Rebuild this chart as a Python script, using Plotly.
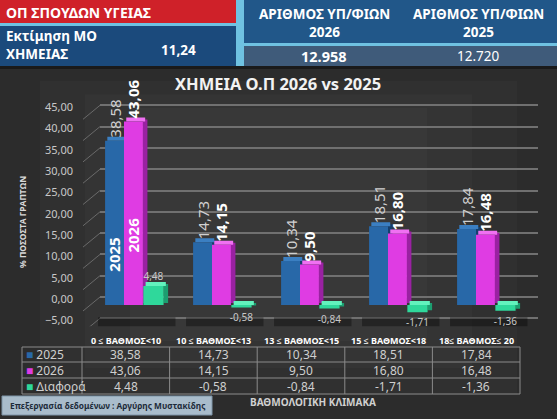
import plotly.graph_objects as go

W, H = 557, 419

# ---------------- data ----------------
categories = ["0 ≤ ΒΑΘΜΟΣ<10", "10 ≤ ΒΑΘΜΟΣ<13", "13 ≤ ΒΑΘΜΟΣ<15",
              "15 ≤ ΒΑΘΜΟΣ<18", "18≤ ΒΑΘΜΟΣ≤ 20"]
v2025 = [38.58, 14.73, 10.34, 18.51, 17.84]
v2026 = [43.06, 14.15, 9.50, 16.80, 16.48]
diff = [4.48, -0.58, -0.84, -1.71, -1.36]
series_names = ["2025", "2026", "Διαφορά"]
y_ticks = [-5, 0, 5, 10, 15, 20, 25, 30, 35, 40, 45]

chart_title = "ΧΗΜΕΙΑ Ο.Π 2026 vs 2025"
y_title = "% ΠΟΣΟΣΤΑ ΓΡΑΠΤΩΝ"
x_title = "ΒΑΘΜΟΛΟΓΙΚΗ ΚΛΙΜΑΚΑ"
header_red = "ΟΠ ΣΠΟΥΔΩΝ ΥΓΕΙΑΣ"
estimate_label = "Εκτίμηση ΜΟ<br>ΧΗΜΕΙΑΣ"
estimate_value = "11,24"
count_label = "ΑΡΙΘΜΟΣ ΥΠ/ΦΙΩΝ"
count_years = ["2026", "2025"]
count_values = ["12.958", "12.720"]
footer = "Επεξεργασία δεδομένων : Αργύρης Μυστακίδης"

# ---------------- helpers ----------------
def px(x):
    return x / W

def py(y):
    return 1 - y / H

def fmt(v):
    return f"{v:.2f}".replace(".", ",")

FONT = "Noto Sans"

# bar axis: 0 at y=305px, 4.26 px per unit
Y0PX, SCALE = 305.0, 4.26
yr = [-5, 50]
ydom = [py(Y0PX - yr[0] * SCALE), py(Y0PX - yr[1] * SCALE)]
shift = 8 / SCALE           # back-wall offset (value units)
CAT_PX = 88.0               # pixels per category
DEPTH_X = 4.5 / CAT_PX      # 3D depth, category units
DEPTH_Y = 4.0 / SCALE       # 3D depth, value units

fig = go.Figure()

# invisible trace that carries the back-wall grid subplot
fig.add_trace(go.Scatter(x=[], y=[], xaxis="x", yaxis="y", showlegend=False,
                         hoverinfo="skip"))

styles = [  # front, side, top, offset, width
    dict(front="#2868a8", side="#163f6c", top="#3b7fc2", off=-0.34, w=0.215),
    dict(front="#df3ce3", side="#9a21a2", top="#f070f2", off=-0.125, w=0.215),
    dict(front="#2fd89b", side="#1c9e70", top="#62f2bd", off=0.095, w=0.23),
]
for name, vals, st in zip(series_names, [v2025, v2026, diff], styles):
    is_diff = name == series_names[2]
    tops = [max(v, 0) for v in vals]
    # right side face
    fig.add_trace(go.Bar(
        x=categories, y=vals, base=[DEPTH_Y * 0.5] * len(vals), xaxis="x2", yaxis="y2",
        offset=st["off"] + st["w"], width=DEPTH_X,
        marker=dict(color=st["side"], line_width=0), hoverinfo="skip", showlegend=False))
    # top face
    fig.add_trace(go.Bar(
        x=categories, y=[DEPTH_Y] * len(vals), base=tops, xaxis="x2", yaxis="y2",
        offset=st["off"] + DEPTH_X * 0.5, width=st["w"],
        marker=dict(color=st["top"], line_width=0), hoverinfo="skip", showlegend=False))
    # front face with the value label
    fig.add_trace(go.Bar(
        x=categories, y=vals, name=name, xaxis="x2", yaxis="y2",
        offset=st["off"], width=st["w"],
        marker=dict(color=st["front"], line_width=0),
        text=[fmt(v) for v in vals],
        textposition="outside",
        textangle=0 if is_diff else -90,
        textfont=dict(family=FONT, size=10 if is_diff else 15,
                      color="#c8c8c8" if is_diff else ("#ffffff" if name == "2026" else "#d0d0d0"),
                      weight="bold" if name == "2026" else "normal"),
        constraintext="none", cliponaxis=False, showlegend=False,
    ))

shapes = []
# header background
shapes.append(dict(type="rect", xref="paper", yref="paper", x0=0, x1=1, y0=py(68), y1=1,
                   fillcolor="#6fc2e2", line_width=0, layer="below"))
shapes.append(dict(type="rect", xref="paper", yref="paper", x0=0, x1=px(236), y0=py(23), y1=1,
                   fillcolor="#cf2129", line_width=0, layer="below"))
shapes.append(dict(type="rect", xref="paper", yref="paper", x0=0, x1=px(236), y0=py(66), y1=py(26),
                   fillcolor="#1b4a7c", line_width=0, layer="below"))
shapes.append(dict(type="rect", xref="paper", yref="paper", x0=px(244), x1=1, y0=py(43), y1=1,
                   fillcolor="#215789", line_width=0, layer="below"))
shapes.append(dict(type="rect", xref="paper", yref="paper", x0=px(244), x1=1, y0=py(66), y1=py(46),
                   fillcolor="#3f5b7a", line_width=0, layer="below"))
shapes.append(dict(type="rect", xref="paper", yref="paper", x0=0, x1=1, y0=py(69), y1=py(66),
                   fillcolor="#1a1a1a", line_width=0, layer="below"))
# soft lighter centre of the dark background
for k in range(3):
    ins = 40 + k * 45
    shapes.append(dict(type="rect", xref="paper", yref="paper", x0=px(ins), x1=px(W - ins),
                       y0=py(H - ins * 0.6), y1=py(69 + ins * 0.3),
                       fillcolor="rgba(255,255,255,0.025)", line_width=0, layer="below"))
# floor slabs under each category
for i, c in enumerate(categories):
    shapes.append(dict(type="rect", xref="x2", yref="y2", x0=i - 0.42, x1=i + 0.46,
                       y0=-5.6, y1=-2.9, fillcolor="rgba(0,0,0,0.35)", line_width=0,
                       layer="below"))
# connectors from tick labels to back wall
for t in y_ticks:
    shapes.append(dict(type="line", xref="paper", yref="y2", x0=px(83), x1=px(100),
                       y0=t - 6 / SCALE, y1=t + shift,
                       line=dict(color="#6a6a6a", width=1), layer="below"))

# ----- data table under the chart -----
TBL_X0, TBL_LBL, TBL_X1 = 22, 82, 520
ROW_LINES = [347, 362, 378, 394]
col_w = (TBL_X1 - TBL_LBL) / len(categories)
col_edges = [TBL_LBL + i * col_w for i in range(len(categories) + 1)]
for yl in ROW_LINES:
    shapes.append(dict(type="line", xref="paper", yref="paper", x0=px(TBL_X0), x1=px(TBL_X1),
                       y0=py(yl), y1=py(yl), line=dict(color="#8a8a8a", width=1)))
for xl in [TBL_X0] + col_edges:
    shapes.append(dict(type="line", xref="paper", yref="paper", x0=px(xl), x1=px(xl),
                       y0=py(ROW_LINES[0]), y1=py(ROW_LINES[-1]),
                       line=dict(color="#8a8a8a", width=1)))

# footer box
shapes.append(dict(type="rect", xref="paper", yref="paper", x0=px(2), x1=px(212),
                   y0=py(415), y1=py(396), fillcolor="#a9bccb",
                   line=dict(color="#7f95a8", width=1), layer="below"))

ann = []
def add_text(text, x, y, size, color="white", xanchor="center", angle=0, align="center",
             xref="paper", yref="paper", xshift=0):
    ann.append(dict(text=text, x=x, y=y, xref=xref, yref=yref, xanchor=xanchor,
                    yanchor="middle", showarrow=False, textangle=angle, align=align,
                    xshift=xshift, font=dict(family=FONT, size=size, color=color)))

row_mid = [(ROW_LINES[k] + ROW_LINES[k + 1]) / 2 for k in range(3)]
for i, c in enumerate(categories):
    cx = (col_edges[i] + col_edges[i + 1]) / 2
    add_text(f"<b>{c}</b>", px(cx), py(340.5), 9)
    for r, vals in enumerate([v2025, v2026, diff]):
        add_text(fmt(vals[i]), px(cx), py(row_mid[r]), 12, "#cfcfcf")
for r, (n, st) in enumerate(zip(series_names, styles)):
    add_text(f"<span style='color:{st['front']}'>■</span> {n}", px(TBL_X0 + 2),
             py(row_mid[r]), 12, "#cfcfcf", xanchor="left")

add_text(f"<b>{header_red}</b>", px(4), py(12), 14, xanchor="left")
add_text(f"<b>{estimate_label}</b>", px(4), py(45), 13.5, xanchor="left", align="left")
add_text(f"<b>{estimate_value}</b>", px(178), py(50), 13.5)
for cx, yr_, val, bold in zip([324, 478], count_years, count_values, [True, False]):
    add_text(f"<b>{count_label}<br>{yr_}</b>", px(cx), py(23), 13.5)
    add_text(f"<b>{val}</b>" if bold else val, px(cx), py(56), 14.5 if bold else 13.5)
add_text(f"<b>{chart_title}</b>", px(278), py(84), 16.5, "#f2f2f2")
add_text(f"<b>{y_title}</b>", px(22), py(222), 8.5, "#d8d8d8", angle=-90)
add_text(f"<b>{x_title}</b>", px(313), py(402), 10, "#d0d0d0")
add_text(f"<b>{footer}</b>", px(107), py(405.5), 8.3, "#1d2b3a")
# series names inside the first bars
for k, yv in zip(range(2), [11.7, 16.4]):
    st = styles[k]
    add_text(f"<b>{series_names[k]}</b>", categories[0], yv, 15, "white", angle=-90,
             xref="x2", yref="y2", xshift=(st["off"] + st["w"] / 2) * CAT_PX)

fig.update_layout(
    width=W, height=H, margin=dict(l=0, r=0, t=0, b=0),
    paper_bgcolor="#2c2c2c", plot_bgcolor="rgba(0,0,0,0)",
    separators=",.", barmode="overlay",
    showlegend=False, shapes=shapes, annotations=ann,
    font=dict(family=FONT, color="#cccccc"),
    xaxis=dict(domain=[px(100), px(538)], anchor="y", range=[0, 1], visible=False,
               showgrid=False, zeroline=False),
    yaxis=dict(domain=ydom, anchor="x", range=[yr[0] - shift, yr[1] - shift], tickvals=y_ticks,
               showgrid=True, gridcolor="#707070", gridwidth=2, showticklabels=False,
               zeroline=False, showline=False),
    xaxis2=dict(domain=[px(91), px(91 + CAT_PX * len(categories))], anchor="y2",
                type="category", categoryorder="array", categoryarray=categories,
                range=[-0.5, len(categories) - 0.5],
                showticklabels=False, showgrid=False, zeroline=False, showline=False),
    yaxis2=dict(domain=ydom, anchor="x2", range=yr, tickvals=y_ticks, tickformat=".2f",
                showgrid=False, zeroline=False, showline=False, ticks="",
                ticklabelshift=-6, ticklabelstandoff=17,
                tickfont=dict(family=FONT, size=11, color="#c8c8c8")),
)

fig.write_html("out.html")
